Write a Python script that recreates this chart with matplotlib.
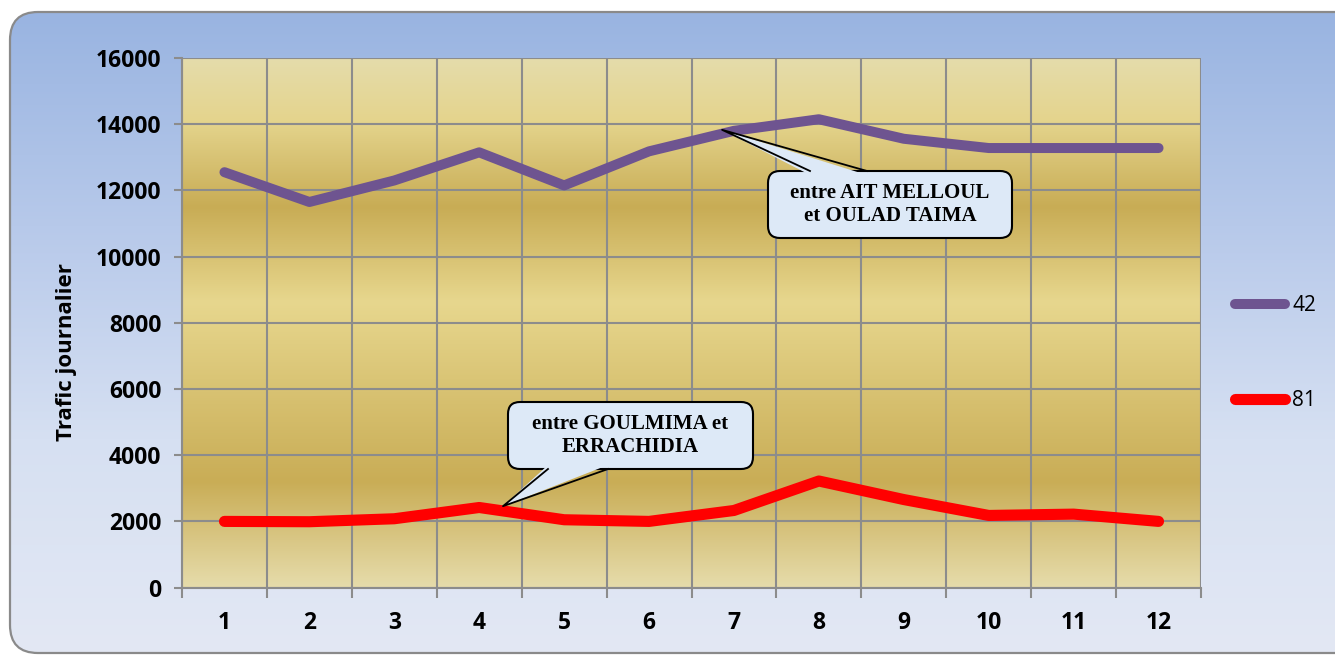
import matplotlib
matplotlib.use("Agg")
import matplotlib.pyplot as plt
import numpy as np
from matplotlib.colors import LinearSegmentedColormap
from matplotlib.patches import FancyBboxPatch, Polygon
from matplotlib.lines import Line2D

months = [1, 2, 3, 4, 5, 6, 7, 8, 9, 10, 11, 12]
route_42 = [12550, 11650, 12300, 13150, 12150, 13180, 13800, 14150, 13560, 13280, 13280, 13280]
route_81 = [2000, 1990, 2080, 2420, 2050, 2000, 2330, 3220, 2660, 2180, 2220, 2000]
series_labels = ["42", "81"]
y_ticks = [0, 2000, 4000, 6000, 8000, 10000, 12000, 14000, 16000]

PURPLE = "#6e5490"
RED = "#ff0000"
GRID = "#8c8c8c"
BUBBLE = "#dde9f7"

W, H = 1335, 655
fig = plt.figure(figsize=(W / 100, H / 100), dpi=100)
fig.patch.set_facecolor("white")

# outer rounded panel with a vertical blue gradient (pixel coordinates, y down)
bg = fig.add_axes([0, 0, 1, 1])
bg.set_xlim(0, W); bg.set_ylim(H, 0); bg.axis("off")
frame = FancyBboxPatch((10, 12), W + 40, 641, boxstyle="round,pad=0,rounding_size=28",
                       fc="none", ec="#8a8a8a", lw=1.6, zorder=3)
bg.add_patch(frame)
blue = LinearSegmentedColormap.from_list("blue", ["#99b4e1", "#b7c9ea", "#d6e0f2", "#e3e8f4"])
im = bg.imshow(np.linspace(0, 1, 256).reshape(-1, 1), cmap=blue, aspect="auto",
               extent=(10, W + 50, 653, 12), zorder=1)
im.set_clip_path(frame)

# plot area
ax = fig.add_axes([182 / W, (H - 587.6) / H, (1201 - 182) / W, (587.6 - 58) / H])
gold = LinearSegmentedColormap.from_list(
    "gold", [(0.0, "#e6dcab"), (0.2, "#c9ad56"), (0.54, "#e7d78e"),
             (0.72, "#c8ac55"), (0.88, "#e4d48c"), (1.0, "#e5dcab")])
ax.imshow(np.linspace(0, 1, 256).reshape(-1, 1), cmap=gold, origin="lower", aspect="auto",
          extent=(0.5, 12.5, 0, 16000), zorder=0)

ax.plot(months, route_42, color=PURPLE, lw=7.2, solid_capstyle="round", solid_joinstyle="round", zorder=3)
ax.plot(months, route_81, color=RED, lw=8, solid_capstyle="round", solid_joinstyle="round", zorder=3)

ax.set_xlim(0.5, 12.5)
ax.set_ylim(0, 16000)
ax.set_yticks(y_ticks)
ax.set_xticks(months)
ax.set_xticks(np.arange(0.5, 13, 1), minor=True)
ax.grid(True, which="major", axis="y", color=GRID, lw=1.5)
ax.grid(True, which="minor", axis="x", color=GRID, lw=1.5)
for s in ax.spines.values():
    s.set_color(GRID); s.set_linewidth(1.5)
ax.spines["top"].set_visible(False)
ax.spines["right"].set_visible(False)
ax.tick_params(axis="y", which="major", length=6, width=1.5, color=GRID, pad=9)
ax.tick_params(axis="x", which="major", length=0, pad=17)
ax.tick_params(axis="x", which="minor", length=7, width=1.5, color=GRID)
for lab in ax.get_xticklabels() + ax.get_yticklabels():
    lab.set_fontweight("bold"); lab.set_fontsize(16.5); lab.set_family("Open Sans")
ax.set_ylabel("Trafic journalier", fontsize=16, fontweight="bold", family="Open Sans")
ax.yaxis.set_label_coords(-0.103, 0.445)

# speech-bubble callouts drawn on a transparent overlay in pixel coordinates
top = fig.add_axes([0, 0, 1, 1], zorder=5)
top.set_xlim(0, W); top.set_ylim(H, 0); top.axis("off"); top.patch.set_alpha(0)


def callout(text, tip, box, base):
    """box = (left, top, width, height) px; base = (x0, x1) where the tail meets the box edge."""
    fig.canvas.draw()
    tx, ty = top.transData.inverted().transform(ax.transData.transform(tip))
    l, t, w, h = box
    top.add_patch(FancyBboxPatch((l, t), w, h, boxstyle="round,pad=0,rounding_size=12",
                                 fc=BUBBLE, ec="black", lw=1.5, zorder=2))
    edge = t if ty < t else t + h
    inner = edge + (4 if ty < t else -4)
    top.add_patch(Polygon([(base[0], inner), (tx, ty), (base[1], inner)],
                          closed=True, fc=BUBBLE, ec="none", zorder=3))
    top.plot([base[0], tx, base[1]], [edge, ty, edge], color="black", lw=1.3, zorder=4)
    top.text(l + w / 2, t + h / 2, text, ha="center", va="center", fontsize=15,
             fontweight="bold", family="Liberation Serif", linespacing=1.15, zorder=5)


callout("entre AIT MELLOUL\net OULAD TAIMA", (6.86, 13830), (768, 171, 244, 67), (810, 867))
callout("entre GOULMIMA et\nERRACHIDIA", (4.28, 2460), (508, 402, 245, 67), (548, 608))

handles = [Line2D([], [], color=PURPLE, lw=7.2, solid_capstyle="round"),
           Line2D([], [], color=RED, lw=8, solid_capstyle="round")]
fig.legend(handles, series_labels, loc="center left", bbox_to_anchor=(1227 / W, (H - 353) / H),
           frameon=False, borderaxespad=0, handlelength=2.4, handletextpad=0.33, labelspacing=3.55,
           prop={"family": "Open Sans", "size": 15})

fig.savefig("out.png", dpi=100)
